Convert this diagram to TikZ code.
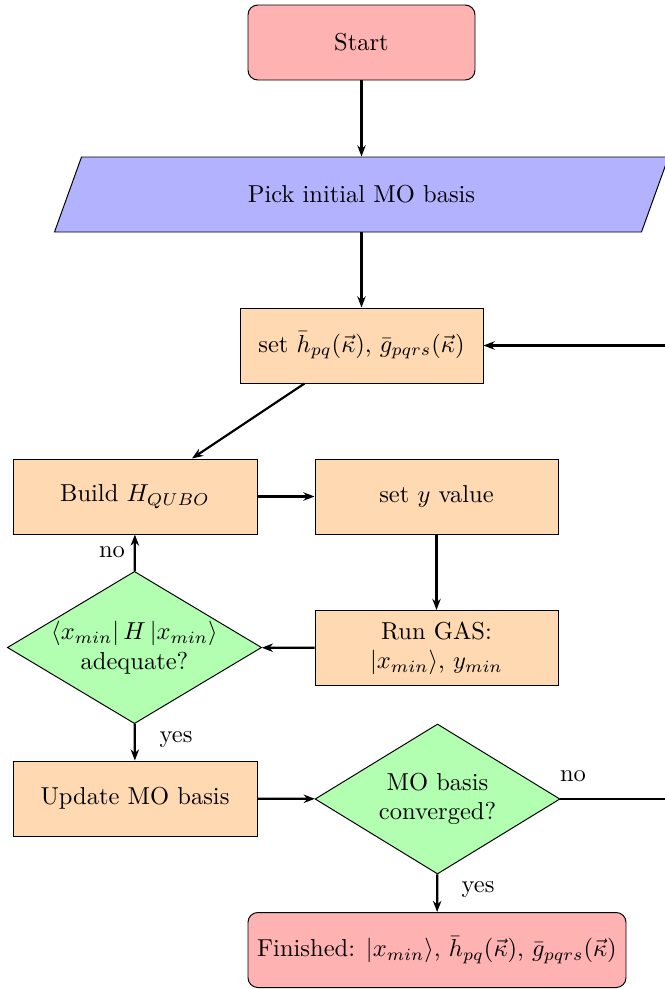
\documentclass[tikz,border=0pt]{standalone}
\usetikzlibrary{shapes.geometric,arrows.meta}
\def\U{0.01435cm}
\begin{document}
\begin{tikzpicture}[x=\U,y=-\U,
  startstop/.style={draw=black,fill=red!30,rounded corners=4pt,minimum height={75*\U},align=center},
  process/.style={draw=black,fill=orange!30,minimum width={243*\U},minimum height={75*\U},align=center},
  decision/.style={draw=black,fill=green!30,diamond,aspect=1.67,inner sep=0pt,align=center},
  arrow/.style={line width=0.9pt,-{Stealth[length=1.6mm,width=1.2mm]}},
  lbl/.style={inner sep=1pt}]
\clip (0,0) rectangle (665,989);
\node[startstop,minimum width={227*\U}] (start) at (361.5,42.5) {Start};
\node[minimum width={587*\U},minimum height={75*\U},inner sep=0pt] (pick) at (361.5,194.5) {};
\fill[blue!30,draw=black] (81.5,157) -- (668.5,157) -- (641.5,232) -- (54.5,232) -- cycle;
\node at (pick) {Pick initial MO basis};
\node[process] (set) at (361.5,345.5) {set $\bar{h}_{pq}(\vec{\kappa})$, $\bar{g}_{pqrs}(\vec{\kappa})$};
\node[process,minimum width={244*\U}] (build) at (135,496.5) {Build $H_{QUBO}$};
\node[process] (sety) at (436.5,496.5) {set $y$ value};
\node[decision,minimum width={249*\U},minimum height={149*\U}] (adeq) at (134.5,647.5) {$\left\langle x_{min}\right| H \left|x_{min}\right\rangle$\\adequate?};
\node[process] (gas) at (436.5,648) {Run GAS:\\$|x_{min}\rangle$, $y_{min}$};
\node[process,minimum width={244*\U}] (update) at (135,798.5) {Update MO basis};
\node[decision,minimum width={245*\U},minimum height={150*\U}] (conv) at (437.5,799) {MO basis\\converged?};
\node[startstop,minimum width={378*\U}] (fin) at (437,950) {Finished: $|x_{min}\rangle$, $\bar{h}_{pq}(\vec{\kappa})$, $\bar{g}_{pqrs}(\vec{\kappa})$};
\coordinate (loop) at (720,799);
\draw[arrow] (start) -- (pick);
\draw[arrow] (pick) -- (set);
\draw[arrow] (set) -- (build);
\draw[arrow] (build) -- (sety);
\draw[arrow] (sety) -- (gas);
\draw[arrow] (gas) -- (adeq);
\draw[arrow] (adeq) -- (build);
\draw[arrow] (adeq) -- (update);
\draw[arrow] (update) -- (conv);
\draw[arrow] (conv) -- (fin);
\draw[arrow] (conv.east) -- (loop) |- (set.east);
\node[lbl] (no1) at (112,552) {no};
\node[lbl] (yes1) at (176,740) {yes};
\node[lbl] (yes2) at (478,890) {yes};
\node[lbl] (no2) at (573,776) {no};
\end{tikzpicture}
\end{document}
